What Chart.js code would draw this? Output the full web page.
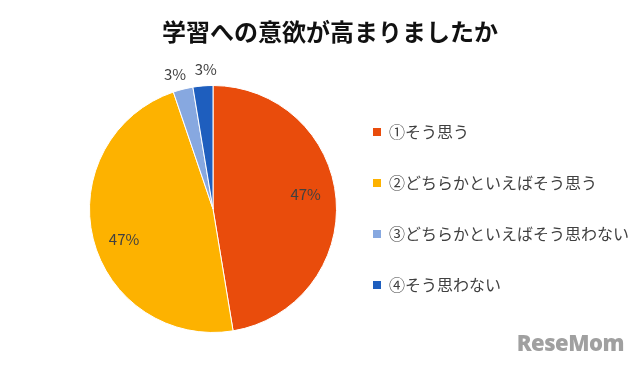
<!DOCTYPE html>
<html>
<head>
<meta charset="utf-8">
<script src="https://cdn.jsdelivr.net/npm/chart.js@4"></script>
<style>
  html, body { margin: 0; padding: 0; background: #fff; }
  #wrap { position: relative; width: 640px; height: 365px; }
  #mark { position: absolute; right: 16px; bottom: 8px; font-family: "Open Sans", sans-serif; font-weight: 800; font-size: 22px; color: #a0a0a0; letter-spacing: -0.5px; }
</style>
</head>
<body>
<div id="wrap">
  <canvas id="pieChart" width="640" height="365"></canvas>
  <div id="mark">ReseMom</div>
</div>
<script>
        const titleText = '学習への意欲が高まりましたか';
        const categories = ['①そう思う', '②どちらかといえばそう思う', '③どちらかといえばそう思わない', '④そう思わない'];
        const values = [47.4, 47.4, 2.6, 2.6];
        const colors = ['#E94C0C', '#FDB200', '#87A8E0', '#1E5EBE'];

        const textColor = '#404040';
        const jpFont = '"Noto Sans CJK JP", "Noto Sans", sans-serif';

        // title, legend and percentage labels drawn by hand
        const decorations = {
            id: 'decorations',
            afterDraw(chart) {
                const ctx = chart.ctx;
                ctx.save();

                ctx.fillStyle = '#111';
                ctx.font = 'bold 24px ' + jpFont;
                ctx.textAlign = 'center';
                ctx.textBaseline = 'middle';
                ctx.fillText(titleText, 330, 32);

                // legend
                ctx.font = '16px ' + jpFont;
                ctx.textAlign = 'left';
                categories.forEach(function(label, i) {
                    const y = 132 + i * 51;
                    ctx.fillStyle = colors[i];
                    ctx.fillRect(373, y - 4, 8, 8);
                    ctx.fillStyle = textColor;
                    ctx.fillText(label, 389, y);
                });

                // slice labels (small slices outside, spread a little)
                const meta = chart.getDatasetMeta(0);
                ctx.font = '15px ' + jpFont;
                ctx.textAlign = 'center';
                ctx.fillStyle = textColor;
                meta.data.forEach(function(arc, i) {
                    const p = arc.getProps(['x', 'y', 'startAngle', 'endAngle', 'outerRadius']);
                    let mid = (p.startAngle + p.endAngle) / 2;
                    let f = 0.76;
                    if (values[i] < 10) {
                        f = 1.13;
                        mid += (i === 2 ? -0.03 : 0.03);
                    } else {
                        mid -= 0.08;
                    }
                    const lx = p.x + Math.cos(mid) * p.outerRadius * f;
                    const ly = p.y + Math.sin(mid) * p.outerRadius * f;
                    ctx.fillText(Math.round(values[i]) + '%', lx, ly);
                });

                ctx.restore();
            }
        };

        const pieCtx = document.getElementById('pieChart').getContext('2d');
        new Chart(pieCtx, {
            type: 'pie',
            data: {
                labels: categories,
                datasets: [{
                    data: values,
                    backgroundColor: colors,
                    borderColor: '#ffffff',
                    borderWidth: 1
                }]
            },
            options: {
                responsive: false,
                animation: false,
                layout: {
                    padding: { left: 88, right: 302, top: 85, bottom: 32 }
                },
                plugins: {
                    legend: { display: false },
                    title: { display: false },
                    tooltip: { enabled: false }
                }
            },
            plugins: [decorations]
        });
</script>
</body>
</html>
